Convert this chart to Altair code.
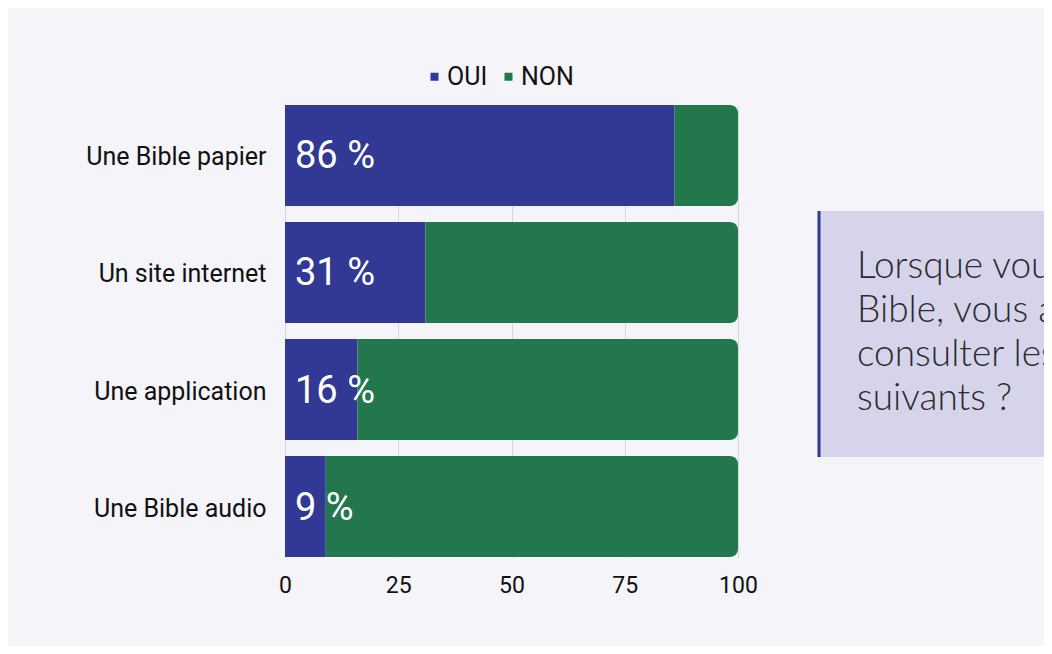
import altair as alt
import pandas as pd

categories = ["Une Bible papier", "Un site internet", "Une application", "Une Bible audio"]
oui_values = [86, 31, 16, 9]
responses = ["OUI", "NON"]
colors = ["#313995", "#22784c"]
x_ticks = [0, 25, 50, 75, 100]
question_lines = ["Lorsque vous lisez la", "Bible, vous arrive-t-il de", "consulter les supports", "suivants ?"]

rows = []
for c, v in zip(categories, oui_values):
    rows.append({"support": c, "reponse": "OUI", "start": 0, "end": v, "label": f"{v} %"})
    rows.append({"support": c, "reponse": "NON", "start": v, "end": 100, "label": ""})
df = pd.DataFrame(rows)

FONT = "Roboto"

y_enc = alt.Y(
    "support:N",
    sort=categories,
    scale=alt.Scale(paddingInner=0.137, paddingOuter=0),
    axis=alt.Axis(title=None, labelFontSize=25, labelPadding=19, ticks=False, labelLimit=400,
                  labelOffset=2, domain=False, labelColor="#111111", labelFont=FONT),
)
x_enc = alt.X(
    "start:Q",
    scale=alt.Scale(domain=[0, 100]),
    axis=alt.Axis(values=x_ticks, title=None, grid=True, gridColor="#d6d6e0", labelFlush=False,
                  ticks=False, domain=False, labelFontSize=23, labelPadding=17,
                  labelColor="#111111", labelFont=FONT),
)
color_enc = alt.Color(
    "reponse:N",
    scale=alt.Scale(domain=responses, range=colors),
    legend=alt.Legend(orient="none", legendX=137, legendY=-41, direction="horizontal",
                      title=None, symbolType="square", symbolSize=64, labelFontSize=25,
                      labelFont=FONT, labelColor="#111111", columnPadding=8,
                      labelOffset=0, padding=0, symbolStrokeWidth=0),
)

base = alt.Chart(df)
bars_oui = base.transform_filter(alt.datum.reponse == "OUI").mark_bar().encode(
    y=y_enc, x=x_enc, x2="end:Q", color=color_enc
)
bars_non = base.transform_filter(alt.datum.reponse == "NON").mark_bar(
    cornerRadiusTopRight=8, cornerRadiusBottomRight=8
).encode(y=y_enc, x=x_enc, x2="end:Q", color=color_enc)
labels = base.transform_filter(alt.datum.reponse == "OUI").mark_text(
    align="left", baseline="middle", dx=10, dy=2, fontSize=38, font=FONT, color="white"
).encode(y=alt.Y("support:N", sort=categories), x="start:Q", text="label:N")

box_df = pd.DataFrame({"q": ["\n".join(question_lines)]})
box = alt.Chart(box_df).mark_rect(color="#d6d4ea").encode(
    x=alt.value(533), x2=alt.value(900), y=alt.value(106), y2=alt.value(352)
)
border = alt.Chart(box_df).mark_rule(color="#313995", strokeWidth=3).encode(
    x=alt.value(534), y=alt.value(106), y2=alt.value(352)
)
question = alt.Chart(box_df).mark_text(
    align="left", baseline="alphabetic", fontSize=37, lineHeight=44, lineBreak="\n",
    font="Lato", fontWeight=300, color="#2b2b2b"
).encode(text="q:N", x=alt.value(572), y=alt.value(173))

chart = alt.layer(bars_oui, bars_non, labels, box, border, question).properties(
    width=453, height=452,
    autosize=alt.AutoSizeParams(type="none"),
    padding={"left": 277, "top": 97, "right": 306, "bottom": 89},
    background="#f4f4f9",
).configure_view(stroke=None)

chart.save("out.html", embed_options={"renderer": "svg", "actions": False})
